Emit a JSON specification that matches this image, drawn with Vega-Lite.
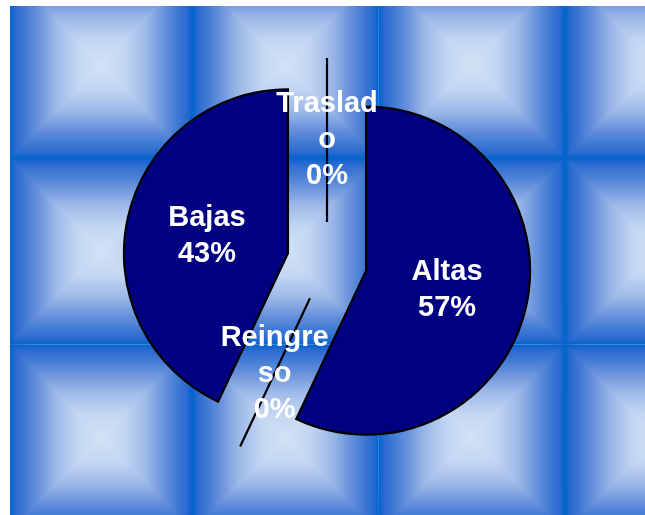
{
  "$schema": "https://vega.github.io/schema/vega-lite/v6.json",
  "width": 635,
  "height": 509,
  "autosize": {"type": "none"},
  "padding": {"left": 10, "top": 6, "right": 0, "bottom": 0},
  "background": "white",
  "config": {"view": {"stroke": null}},
  "datasets": {
    "mosaico": [
      {"col": 0, "row": 0}, {"col": 1, "row": 0}, {"col": 2, "row": 0}, {"col": 3, "row": 0},
      {"col": 0, "row": 1}, {"col": 1, "row": 1}, {"col": 2, "row": 1}, {"col": 3, "row": 1},
      {"col": 0, "row": 2}, {"col": 1, "row": 2}, {"col": 2, "row": 2}, {"col": 3, "row": 2}
    ],
    "movimientos": [
      {"categoria": "Altas", "valor": 57, "etiqueta": "Altas\n57%"},
      {"categoria": "Reingreso", "valor": 0, "etiqueta": "Reingre\nso\n0%"},
      {"categoria": "Bajas", "valor": 43, "etiqueta": "Bajas\n43%"},
      {"categoria": "Traslado", "valor": 0, "etiqueta": "Traslad\no\n0%"}
    ]
  },
  "resolve": {"scale": {"x": "independent", "y": "independent"}},
  "layer": [
    {
      "data": {"name": "mosaico"},
      "transform": [
        {"calculate": "datum.col + 1", "as": "col2"},
        {"calculate": "datum.row + 1", "as": "row2"}
      ],
      "mark": {
        "type": "rect",
        "clip": true,
        "strokeWidth": 0,
        "fill": {
          "gradient": "linear",
          "x1": 0, "y1": 0, "x2": 0, "y2": 1,
          "stops": [
            {"offset": 0, "color": "#0064cc"},
            {"offset": 0.03, "color": "#2a6ad0"},
            {"offset": 0.08, "color": "#4079d4"},
            {"offset": 0.15, "color": "#6690dc"},
            {"offset": 0.25, "color": "#9cb8e8"},
            {"offset": 0.37, "color": "#c3d6f2"},
            {"offset": 0.5, "color": "#d2e3f6"},
            {"offset": 0.63, "color": "#c3d6f2"},
            {"offset": 0.75, "color": "#9cb8e8"},
            {"offset": 0.85, "color": "#6690dc"},
            {"offset": 0.92, "color": "#4079d4"},
            {"offset": 0.97, "color": "#2a6ad0"},
            {"offset": 1, "color": "#0064cc"}
          ]
        }
      },
      "encoding": {
        "x": {"field": "col", "type": "quantitative", "axis": null, "scale": {"domain": [0.0241, 3.429], "nice": false, "zero": false}},
        "x2": {"field": "col2"},
        "y": {"field": "row", "type": "quantitative", "axis": null, "scale": {"domain": [0.185, 2.914], "nice": false, "zero": false, "reverse": true}},
        "y2": {"field": "row2"}
      }
    },
    {
      "data": {"name": "mosaico"},
      "transform": [
        {"calculate": "datum.col + 1", "as": "col2"},
        {"calculate": "datum.row + 1", "as": "row2"}
      ],
      "mark": {
        "type": "rect",
        "strokeWidth": 0,
        "blend": "darken",
        "fill": {
          "gradient": "linear",
          "x1": 0, "y1": 0, "x2": 1, "y2": 0,
          "stops": [
            {"offset": 0, "color": "#0064cc"},
            {"offset": 0.03, "color": "#2a6ad0"},
            {"offset": 0.08, "color": "#4079d4"},
            {"offset": 0.15, "color": "#6690dc"},
            {"offset": 0.25, "color": "#9cb8e8"},
            {"offset": 0.37, "color": "#c3d6f2"},
            {"offset": 0.5, "color": "#d2e3f6"},
            {"offset": 0.63, "color": "#c3d6f2"},
            {"offset": 0.75, "color": "#9cb8e8"},
            {"offset": 0.85, "color": "#6690dc"},
            {"offset": 0.92, "color": "#4079d4"},
            {"offset": 0.97, "color": "#2a6ad0"},
            {"offset": 1, "color": "#0064cc"}
          ]
        }
      },
      "encoding": {
        "x": {"field": "col", "type": "quantitative", "axis": null, "scale": {"domain": [0.0241, 4.3136], "range": [0, 800], "clamp": true, "nice": false, "zero": false}},
        "x2": {"field": "col2"},
        "y": {"field": "row", "type": "quantitative", "axis": null, "scale": {"domain": [0.185, 2.914], "clamp": true, "nice": false, "zero": false, "reverse": true}},
        "y2": {"field": "row2"}
      }
    },
    {
      "data": {"name": "movimientos"},
      "transform": [
        {"window": [{"op": "sum", "field": "valor", "as": "fin"}], "frame": [null, 0]},
        {"calculate": "datum.fin - datum.valor", "as": "inicio"},
        {"calculate": "PI * (datum.inicio + datum.fin) / 100", "as": "ang"},
        {"calculate": "length(split(datum.etiqueta, '\\n'))", "as": "lineas"},
        {"calculate": "0.244 * sin(datum.ang)", "as": "ex"},
        {"calculate": "-0.244 * cos(datum.ang)", "as": "ey"},
        {"calculate": "0.75 * sin(datum.ang)", "as": "lx"},
        {"calculate": "-0.75 * cos(datum.ang) - (datum.lineas - 1) * 18 / 164", "as": "ly"}
      ],
      "layer": [
        {
          "mark": {"type": "arc", "radius": 164, "fill": "#000080", "stroke": "#000000", "strokeWidth": 2.2},
          "encoding": {
            "x": {"field": "ex", "type": "quantitative", "axis": null, "scale": {"domain": [-1.933, 1.939], "nice": false, "zero": false}},
            "y": {"field": "ey", "type": "quantitative", "axis": null, "scale": {"domain": [-1.561, 1.543], "nice": false, "zero": false, "reverse": true}},
            "theta": {"field": "inicio", "type": "quantitative", "stack": null, "scale": {"domain": [0, 100], "range": [0, 6.283185307]}},
            "theta2": {"field": "fin"}
          }
        },
        {
          "mark": {"type": "text", "color": "white", "font": "Liberation Sans", "fontWeight": "bold", "fontSize": 29, "lineHeight": 36, "lineBreak": "\n", "align": "center", "baseline": "middle"},
          "encoding": {
            "x": {"field": "lx", "type": "quantitative", "axis": null},
            "y": {"field": "ly", "type": "quantitative", "axis": null},
            "text": {"field": "etiqueta", "type": "nominal"}
          }
        }
      ]
    }
  ]
}
